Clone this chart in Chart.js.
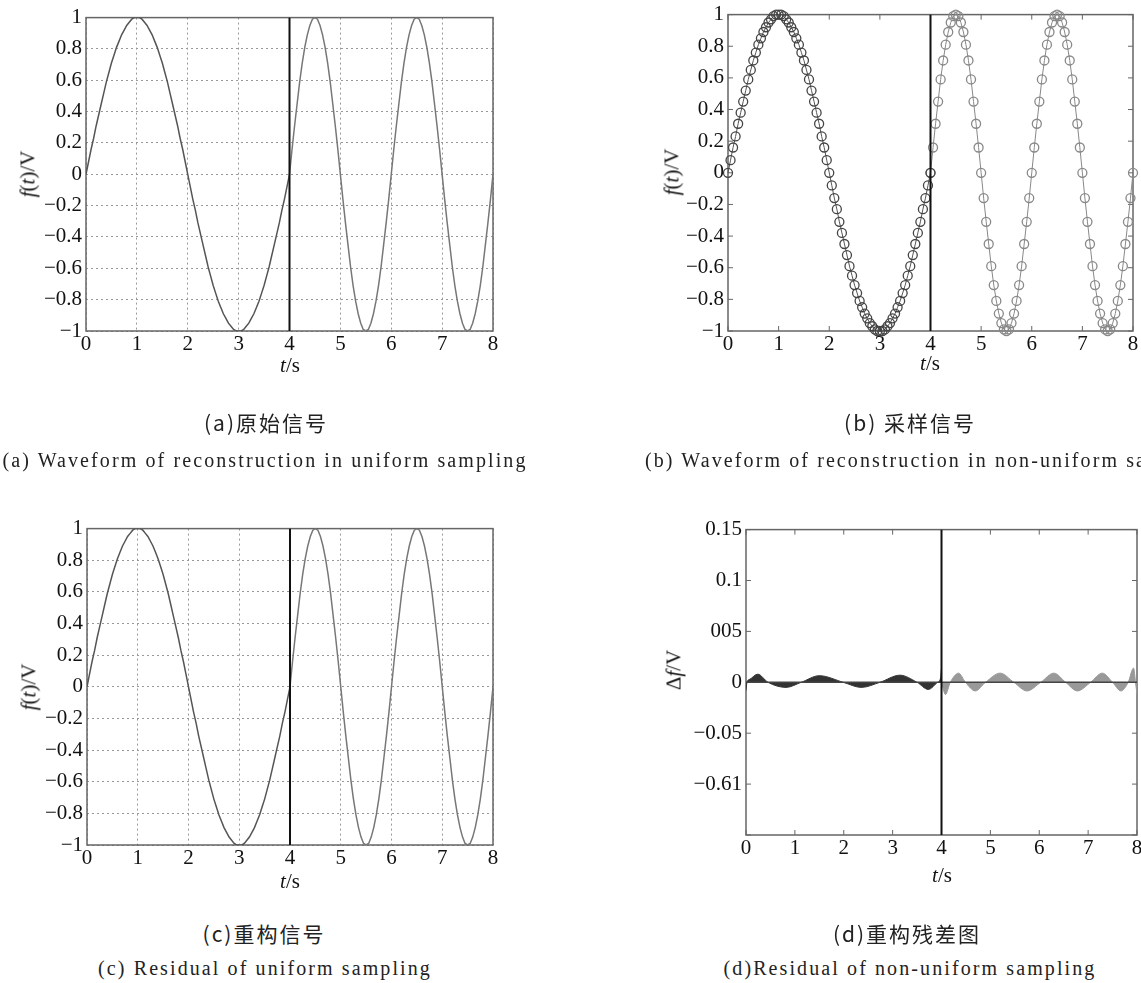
<!DOCTYPE html>
<html>
<head>
<meta charset="utf-8">
<script src="https://cdn.jsdelivr.net/npm/chart.js@4.4.0/dist/chart.umd.min.js"></script>
<style>
body { margin:0; width:1141px; height:983px; overflow:hidden; background:#fff; position:relative; font-family:'Liberation Serif', 'Times New Roman', 'DejaVu Serif', serif; }
.box { position:absolute; }
.lab { position:absolute; font-size:21px; color:#111; white-space:nowrap; transform:translate(-50%,-50%); }
.rot { transform:translate(-50%,-50%) rotate(-90deg); }
.cap { position:absolute; white-space:nowrap; color:#222; transform:translate(-50%,-50%); }
.zh { font-family:'Noto Sans CJK SC', sans-serif; font-size:21px; letter-spacing:2px; }
.en { font-family:'Liberation Serif', 'Times New Roman', serif; font-size:20px; letter-spacing:2.1px; }
</style>
</head>
<body>
<div class="box"><canvas id="pa"></canvas></div>
<div class="box"><canvas id="pb"></canvas></div>
<div class="box"><canvas id="pc"></canvas></div>
<div class="box"><canvas id="pd"></canvas></div>

<div class="lab rot" style="left:28px;top:174px"><i>f</i>(<i>t</i>)/V</div>
<div class="lab" style="left:290px;top:365px"><i>t</i>/s</div>
<div class="lab rot" style="left:672px;top:172px"><i>f</i>(<i>t</i>)/V</div>
<div class="lab" style="left:930px;top:363px"><i>t</i>/s</div>
<div class="lab rot" style="left:29px;top:687px"><i>f</i>(<i>t</i>)/V</div>
<div class="lab" style="left:290px;top:881px"><i>t</i>/s</div>
<div class="lab rot" style="left:674px;top:670px">Δ<i>f</i>/V</div>
<div class="lab" style="left:942px;top:875px"><i>t</i>/s</div>

<div class="cap zh" style="left:266px;top:422px">(a)原始信号</div>
<div class="cap en" style="left:265px;top:460px">(a) Waveform of reconstruction in uniform sampling</div>
<div class="cap zh" style="left:910px;top:422px">(b) 采样信号</div>
<div class="cap en" style="left:645px;top:460px;transform:translate(0,-50%)">(b) Waveform of reconstruction in non-uniform sampling</div>
<div class="cap zh" style="left:264px;top:933px">(c)重构信号</div>
<div class="cap en" style="left:265px;top:968px">(c) Residual of uniform sampling</div>
<div class="cap zh" style="left:907px;top:933px">(d)重构残差图</div>
<div class="cap en" style="left:910px;top:968px">(d)Residual of non-uniform sampling</div>

<script>
// sample times (s), step 0.05
const tSec = [
  0,0.05,0.1,0.15,0.2,0.25,0.3,0.35,0.4,0.45,0.5,0.55,0.6,0.65,0.7,0.75,0.8,0.85,0.9,0.95,
  1,1.05,1.1,1.15,1.2,1.25,1.3,1.35,1.4,1.45,1.5,1.55,1.6,1.65,1.7,1.75,1.8,1.85,1.9,1.95,
  2,2.05,2.1,2.15,2.2,2.25,2.3,2.35,2.4,2.45,2.5,2.55,2.6,2.65,2.7,2.75,2.8,2.85,2.9,2.95,
  3,3.05,3.1,3.15,3.2,3.25,3.3,3.35,3.4,3.45,3.5,3.55,3.6,3.65,3.7,3.75,3.8,3.85,3.9,3.95,
  4,4.05,4.1,4.15,4.2,4.25,4.3,4.35,4.4,4.45,4.5,4.55,4.6,4.65,4.7,4.75,4.8,4.85,4.9,4.95,
  5,5.05,5.1,5.15,5.2,5.25,5.3,5.35,5.4,5.45,5.5,5.55,5.6,5.65,5.7,5.75,5.8,5.85,5.9,5.95,
  6,6.05,6.1,6.15,6.2,6.25,6.3,6.35,6.4,6.45,6.5,6.55,6.6,6.65,6.7,6.75,6.8,6.85,6.9,6.95,
  7,7.05,7.1,7.15,7.2,7.25,7.3,7.35,7.4,7.45,7.5,7.55,7.6,7.65,7.7,7.75,7.8,7.85,7.9,7.95,
  8
];
// signal values (V)
const sig = [
  0,.08,.16,.23,.31,.38,.45,.52,.59,.65,.71,.76,.81,.85,.89,.92,.95,.97,.99,1,
  1,1,.99,.97,.95,.92,.89,.85,.81,.76,.71,.65,.59,.52,.45,.38,.31,.23,.16,.08,
  0,-.08,-.16,-.23,-.31,-.38,-.45,-.52,-.59,-.65,-.71,-.76,-.81,-.85,-.89,-.92,-.95,-.97,-.99,-1,
  -1,-1,-.99,-.97,-.95,-.92,-.89,-.85,-.81,-.76,-.71,-.65,-.59,-.52,-.45,-.38,-.31,-.23,-.16,-.08,
  0,.16,.31,.45,.59,.71,.81,.89,.95,.99,1,.99,.95,.89,.81,.71,.59,.45,.31,.16,
  0,-.16,-.31,-.45,-.59,-.71,-.81,-.89,-.95,-.99,-1,-.99,-.95,-.89,-.81,-.71,-.59,-.45,-.31,-.16,
  0,.16,.31,.45,.59,.71,.81,.89,.95,.99,1,.99,.95,.89,.81,.71,.59,.45,.31,.16,
  0,-.16,-.31,-.45,-.59,-.71,-.81,-.89,-.95,-.99,-1,-.99,-.95,-.89,-.81,-.71,-.59,-.45,-.31,-.16,
  0
];
// residual, uniform part (0-4 s) and non-uniform part (4-8 s)
const resTL = [0,0.02,0.08,0.24,0.45,0.82,1.13,1.5,1.99,2.36,2.74,3.15,3.5,3.73,3.92,3.98,4];
const resVL = [-0.008,0,0.003,0.008,0,-0.005,0,0.0065,0,-0.005,0,0.007,0,-0.007,0,0.004,0.014];
const resTR = [4,4.08,4.18,4.35,4.49,4.69,4.9,5.2,5.48,5.75,6.03,6.3,6.54,6.78,7.05,7.29,7.5,7.67,7.82,7.93,7.97,8];
const resVR = [0,-0.012,0,0.009,0,-0.0085,0,0.009,0,-0.0085,0,0.009,0,-0.0085,0,0.009,0,-0.0085,0,0.014,0,-0.012];

const xLabels = ['0','1','2','3','4','5','6','7','8'];
const yLabels = ['−1','−0.8','−0.6','−0.4','−0.2','0','0.2','0.4','0.6','0.8','1'];
const yLabelsD = ['','−0.61','−0.05','0','005','0.1','0.15'];
const tSplit = 4;

function pts(ts, vs) { return ts.map((t, i) => ({x: t, y: vs[i]})); }
const sigAll = pts(tSec, sig);
const sigL = sigAll.filter(p => p.x <= tSplit);
const sigR = sigAll.filter(p => p.x >= tSplit);

Chart.defaults.font.family = "'Liberation Serif', 'Times New Roman', 'DejaVu Serif', serif";
Chart.defaults.font.size = 21;
Chart.defaults.color = '#111';

const framePlugin = {
  id: 'frame',
  beforeDatasetsDraw(chart, args, opts) {
    const {ctx, chartArea: a, scales: {x, y}} = chart;
    ctx.save();
    ctx.strokeStyle = '#666';
    ctx.lineWidth = 1.5;
    ctx.strokeRect(a.left, a.top, a.width, a.height);
    if (opts.inTicks) {
      ctx.lineWidth = 1;
      ctx.beginPath();
      x.ticks.forEach(t => {
        const px = x.getPixelForValue(t.value);
        ctx.moveTo(px, a.top); ctx.lineTo(px, a.top + 5);
        ctx.moveTo(px, a.bottom); ctx.lineTo(px, a.bottom - 5);
      });
      y.ticks.forEach(t => {
        const py = y.getPixelForValue(t.value);
        ctx.moveTo(a.left, py); ctx.lineTo(a.left + 5, py);
        ctx.moveTo(a.right, py); ctx.lineTo(a.right - 5, py);
      });
      ctx.stroke();
    }
    ctx.restore();
  }
};

function splitLine(yMin, yMax) {
  return { data: [{x: tSplit, y: yMin}, {x: tSplit, y: yMax}], borderColor: '#111', borderWidth: 2, pointRadius: 0 };
}

function panel(id, fr, yMin, yMax, yStep, yLabs, datasets, grid) {
  const yW = 80, xH = 34, padT = 14, padR = 10;
  const cv = document.getElementById(id);
  const box = cv.parentNode;
  box.style.left = (fr[0] - yW) + 'px';
  box.style.top = (fr[1] - padT) + 'px';
  box.style.width = (fr[2] - fr[0] + yW + padR) + 'px';
  box.style.height = (fr[3] - fr[1] + padT + xH) + 'px';
  const gridOpt = grid ? { color: '#999', lineWidth: 1, drawTicks: false } : { display: false, drawTicks: false };
  new Chart(cv, {
    type: 'line',
    data: { datasets: datasets },
    options: {
      responsive: true,
      maintainAspectRatio: false,
      animation: false,
      layout: { padding: { top: padT, right: padR, left: 0, bottom: 0 } },
      plugins: { legend: { display: false }, tooltip: { enabled: false }, frame: { inTicks: !grid } },
      scales: {
        x: {
          type: 'linear', min: 0, max: 8,
          grid: gridOpt,
          border: { display: false, dash: [2, 3] },
          ticks: { stepSize: 1, padding: 1, maxRotation: 0, callback: (v, i) => xLabels[i] },
          afterFit: s => { s.height = xH; }
        },
        y: {
          type: 'linear', min: yMin, max: yMax,
          grid: gridOpt,
          border: { display: false, dash: [2, 3] },
          ticks: { stepSize: yStep, padding: 4, callback: (v, i) => yLabs[i] },
          afterFit: s => { s.width = yW; }
        }
      }
    },
    plugins: [framePlugin]
  });
}

// (a) original signal
panel('pa', [86, 15, 493, 331], -1, 1, 0.2, yLabels, [
  splitLine(-1, 1),
  { data: sigL, borderColor: '#555', borderWidth: 1.5, pointRadius: 0 },
  { data: sigR, borderColor: '#777', borderWidth: 1.5, pointRadius: 0 }
], true);

// (b) sampled signal
panel('pb', [728, 12, 1133, 331], -1, 1, 0.2, yLabels, [
  splitLine(-1, 1),
  { data: sigL, borderColor: '#555', borderWidth: 1, pointRadius: 4.5, pointStyle: 'circle',
    pointBorderColor: '#444', pointBackgroundColor: 'rgba(0,0,0,0)', pointBorderWidth: 1.3, clip: false },
  { data: sigR, borderColor: '#888', borderWidth: 1, pointRadius: 4.5, pointStyle: 'circle',
    pointBorderColor: '#888', pointBackgroundColor: 'rgba(0,0,0,0)', pointBorderWidth: 1.3, clip: false }
], false);

// (c) reconstructed signal
panel('pc', [87, 526, 493, 845], -1, 1, 0.2, yLabels, [
  splitLine(-1, 1),
  { data: sigL, borderColor: '#555', borderWidth: 1.5, pointRadius: 0 },
  { data: sigR, borderColor: '#777', borderWidth: 1.5, pointRadius: 0 }
], true);

// (d) residual
panel('pd', [746, 527, 1137, 835], -0.15, 0.15, 0.05, yLabelsD, [
  splitLine(-0.15, 0.15),
  { data: [{x: 0, y: 0}, {x: 8, y: 0}], borderColor: '#444', borderWidth: 1.5, pointRadius: 0 },
  { data: pts(resTL, resVL), borderColor: '#333', backgroundColor: '#333', borderWidth: 1, pointRadius: 0,
    fill: 'origin', cubicInterpolationMode: 'monotone' },
  { data: pts(resTR, resVR), borderColor: '#999', backgroundColor: '#999', borderWidth: 1, pointRadius: 0,
    fill: 'origin', cubicInterpolationMode: 'monotone' }
], false);
</script>
</body>
</html>
